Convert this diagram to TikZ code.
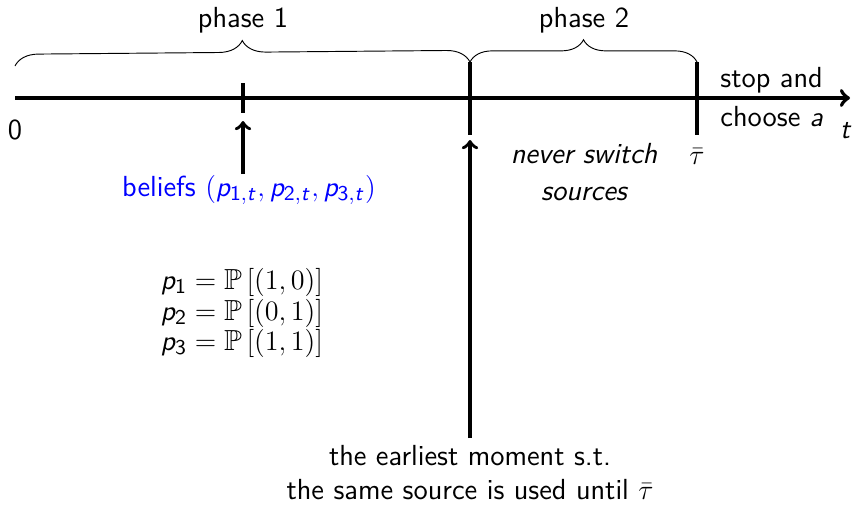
\documentclass[tikz,border=0pt]{standalone}
\usepackage{amsmath,amssymb}
\usetikzlibrary{decorations.pathreplacing}
\DeclareMathAlphabet{\mathsfit}{OT1}{cmss}{m}{sl}
\newcommand{\sv}[1]{\mathsfit{#1}}
\newcommand{\sd}[1]{\mathsf{#1}}

\begin{document}
\begin{tikzpicture}[x=0.015cm,y=-0.015cm,>=to,
	every node/.style={font=\sffamily\fontsize{12.4}{15}\selectfont},
	timeline/.style={line width=1.7pt},
	marker/.style={line width=1.5pt},
	phasebrace/.style={decorate,decoration={brace,amplitude=#1}}]
	
	\useasboundingbox (0,0) rectangle (854,504);
	
	%----------------------
	% Parameters
	%----------------------
	\def\ya{98}     % height of the time axis
	\def\xa{243}    % belief tick
	\def\xb{470}    % end of phase 1
	\def\xc{697}    % stopping time
	
	% Time axis
	\coordinate (origin) at (15,\ya);
	\coordinate (tend) at (850,\ya);
	\draw[timeline,->] (origin) -- (tend);
	\node (zero) at (15,130) {0};
	\node (tlab) at (846,130) {$\sv{t}$};
	
	% Ticks
	\coordinate (k1top) at (\xa,83);
	\coordinate (k1bot) at (\xa,113);
	\coordinate (k2top) at (\xb,62);
	\coordinate (k2bot) at (\xb,135);
	\coordinate (k3top) at (\xc,62);
	\coordinate (k3bot) at (\xc,135);
	\draw[timeline] (k1top) -- (k1bot);
	\draw[timeline] (k2top) -- (k2bot);
	\draw[timeline] (k3top) -- (k3bot);
	
	%----------------------
	% Phases
	%----------------------
	\coordinate (b1s) at (15,66);
	\coordinate (b1e) at (\xb,62);
	\coordinate (b2e) at (\xc,62);
	\draw[phasebrace=10pt] (b1s) -- (b1e);
	\draw[phasebrace=9.5pt] (b1e) -- (b2e);
	\node (phase1) at (\xa,20) {phase 1};
	\node (phase2) at (584,20) {phase 2};
	
	% Beliefs
	\coordinate (k1arr) at (\xa,121);
	\node[blue] (beliefs) at (249,190)
	{beliefs $(\sv{p}_{\sd{1},\sv{t}},\sv{p}_{\sd{2},\sv{t}},\sv{p}_{\sd{3},\sv{t}})$};
	\draw[marker,->] (\xa,174) -- (k1arr);
	
	\node (probs) at (242,313) {$\begin{aligned}
			\sv{p}_{\sd{1}} &= \mathbb{P}\,[(1,0)]\\[-5pt]
			\sv{p}_{\sd{2}} &= \mathbb{P}\,[(0,1)]\\[-5pt]
			\sv{p}_{\sd{3}} &= \mathbb{P}\,[(1,1)]
		\end{aligned}$};
	
	% Earliest moment
	\coordinate (k2arr) at (\xb,140);
	\node[align=center,inner sep=1pt,font=\sffamily\fontsize{12.4}{14.5}\selectfont] (moment) at (\xb,473)
	{the earliest moment s.t.\\ the same source is used until $\bar{\tau}$};
	\draw[marker,->] (\xb,438) -- (k2arr);
	
	% Phase 2 and stopping
	\node[align=center,font=\sffamily\itshape\fontsize{12.4}{15.5}\selectfont] (never) at (584,172)
	{never switch\\ sources};
	\node (taubar) at (\xc,157) {$\bar{\tau}$};
	\node[align=left,font=\sffamily\fontsize{12.4}{16.5}\selectfont] (stop) at (772,97) {stop and\\ choose $\sv{a}$};
	
\end{tikzpicture}
\end{document}
